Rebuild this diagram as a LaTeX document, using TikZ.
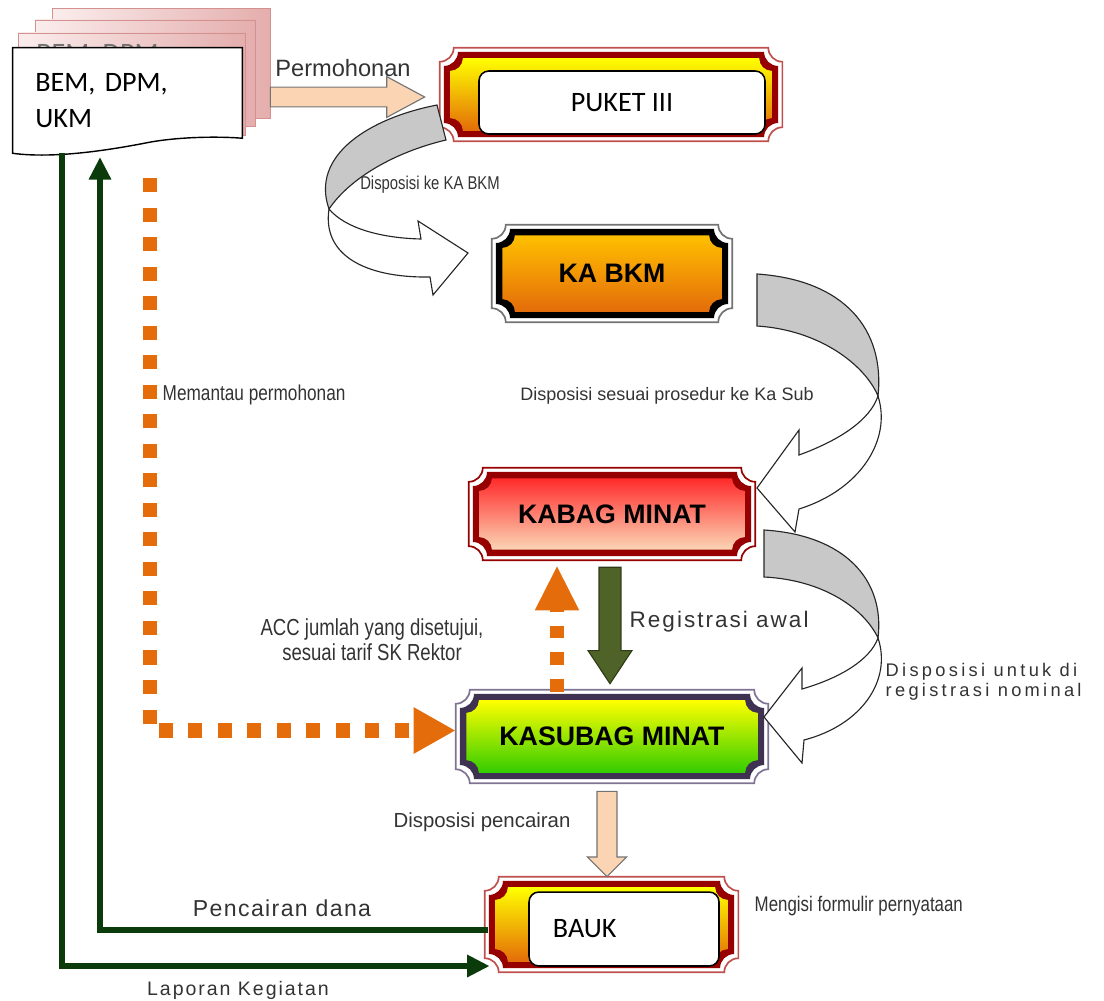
\documentclass[tikz,border=0pt]{standalone}
\usepackage{fontspec}
\setmainfont{Liberation Sans}
\newfontfamily\calib{Carlito}
\newfontfamily\narrowfont[FakeStretch=0.8]{Liberation Sans}
\usetikzlibrary{arrows.meta,calc,positioning,backgrounds}
\frenchspacing

\definecolor{peach}{HTML}{FBD4B4}
\definecolor{dkgreen}{HTML}{0B3B0B}
\definecolor{regreen}{HTML}{4F6228}
\definecolor{dotorange}{HTML}{E46C0A}
\definecolor{ribbon}{HTML}{C8C8C8}
\definecolor{pkrim}{HTML}{C0504D}
\definecolor{pkband}{HTML}{960000}
\definecolor{pkyellow}{HTML}{FFFF00}
\definecolor{pkorange}{HTML}{E36C09}
\definecolor{bkmtop}{HTML}{FFC000}
\definecolor{bkmbot}{HTML}{E46C0A}
\definecolor{kbtop}{HTML}{FF2B2B}
\definecolor{kbbot}{HTML}{FBD5B5}
\definecolor{ksrim}{HTML}{7F7393}
\definecolor{ksband}{HTML}{3F3151}
\definecolor{ksbot}{HTML}{33CC00}
\definecolor{pagel}{HTML}{FBEDED}
\definecolor{pager}{HTML}{E4AEAD}
\definecolor{pageedge}{HTML}{D39190}

% one layer of a plaque frame: options, node, inset, corner radius
\newcommand{\plaquelayer}[4]{%
  \path[#1] let \p1=($(#2.south west)+(#3,#3)$), \p2=($(#2.north east)-(#3,#3)$) in
    (\x1+#4,\y1) -- (\x2-#4,\y1) arc[start angle=180,end angle=90,radius=#4]
    -- (\x2,\y2-#4) arc[start angle=270,end angle=180,radius=#4]
    -- (\x1+#4,\y2) arc[start angle=360,end angle=270,radius=#4]
    -- (\x1,\y1+#4) arc[start angle=90,end angle=0,radius=#4] -- cycle;}
% node, rim, band, top colour, bottom colour
\newcommand{\plaque}[5]{%
  \plaquelayer{fill=white, draw=#2, line width=1.2pt}{#1}{0pt}{10pt}
  \plaquelayer{fill=#3}{#1}{3pt}{10pt}
  \plaquelayer{top color=#4, bottom color=#5}{#1}{7.5pt}{9pt}}
% block arrows: style, from, to, shaft half width, head half width, head length
\newcommand{\vblock}[6]{%
  \path[#1] let \p1=#2, \p2=#3 in
    (\x1-#4,\y1) -- (\x1+#4,\y1) -- (\x1+#4,\y2+#6) -- (\x1+#5,\y2+#6)
    -- (\x1,\y2) -- (\x1-#5,\y2+#6) -- (\x1-#4,\y2+#6) -- cycle;}
\newcommand{\hblock}[6]{%
  \path[#1] let \p1=#2, \p2=#3 in
    (\x1,\y1+#4) -- (\x2-#6,\y1+#4) -- (\x2-#6,\y1+#5) -- (\x2,\y1)
    -- (\x2-#6,\y1-#5) -- (\x2-#6,\y1-#4) -- (\x1,\y1-#4) -- cycle;}

\tikzset{
  page/.style={draw=pageedge, line width=0.6pt, left color=pagel, right color=pager},
  docbox/.style={minimum width=162.9pt, minimum height=74.7pt, text width=131pt, align=left,
    inner xsep=16pt, font=\calib\fontsize{20}{25}\selectfont},
  plaquebox/.style={inner sep=0pt, font=\bfseries\fontsize{19}{22}\selectfont},
  labelbox/.style={draw, fill=white, rounded corners=7pt, line width=1.1pt,
    font=\calib\fontsize{20}{24}\selectfont},
  peacharrow/.style={fill=peach, draw=black!55, line width=0.8pt},
  ribbonback/.style={fill=ribbon, draw=black!85, line width=0.8pt},
  ribbonfront/.style={fill=white, draw=black!85, line width=0.8pt},
  greenline/.style={draw=dkgreen, line width=4.6pt, -{Triangle[length=16pt,width=15pt]}},
  orangedots/.style={draw=dotorange, line width=10pt, dash pattern=on 10pt off 11pt},
  note/.style={text=black!80, inner sep=1pt, font=\fontsize{12.8}{15}\selectfont},
  narrownote/.style={text=black!80, inner sep=1pt, font=\narrowfont\fontsize{13.2}{15}\selectfont},
}

\begin{document}
\begin{tikzpicture}[x=0.025cm, y=0.025cm]
\useasboundingbox (0,0) rectangle (1104,-1000);

% stacked sheets
\begin{scope}[on background layer]
\node[page, minimum width=155pt, minimum height=78.2pt] (page1) at (161,-63) {};
\node[page, minimum width=156.5pt, minimum height=75.4pt] (page2) at (145,-73) {};
\node[page, minimum width=161.5pt, minimum height=72.6pt] (page3) at (131.5,-84) {};
\node[anchor=base west, inner sep=0pt, text=black!55, font=\calib\fontsize{20}{24}\selectfont]
  (ghost) at (36,-62) {BEM, DPM,};
\end{scope}

\node[docbox] (docs) at (127.5,-100.5) {BEM, DPM,\\UKM};
\begin{scope}[on background layer]
\path[fill=white, draw=black, line width=1pt] let \p1=(docs.south west), \p2=(docs.north east) in
  (\x1,\y2) -- (\x2,\y2) -- (\x2,\y1+10.7pt)
  .. controls (\x2-15pt,\y1+12pt) and (\x1+120pt,\y1+12pt) .. (\x1+97pt,\y1+7.8pt)
  .. controls (\x1+70pt,\y1+2.5pt) and (\x1+30pt,\y1-4pt) .. (\x1,\y1) -- cycle;
\end{scope}

% offices
\node[plaquebox, minimum width=243.3pt, minimum height=66.2pt] (puket) at (611,-94.5) {};
\node[labelbox, minimum width=203.4pt, minimum height=44.8pt] (puketlbl) at (622,-102.5) {PUKET III};
\node[plaquebox, minimum width=170.7pt, minimum height=69pt] (kabkm) at (612,-273.5) {KA BKM};
\node[plaquebox, minimum width=203.4pt, minimum height=65.4pt] (kabag) at (612,-514) {KABAG MINAT};
\node[plaquebox, minimum width=221.9pt, minimum height=66.2pt] (kasubag) at (612,-736.5) {KASUBAG MINAT};
\node[plaquebox, minimum width=180pt, minimum height=67.6pt] (bauk) at (611.5,-924.5) {};
\node[labelbox, minimum width=135.1pt, minimum height=52.6pt, text width=101pt, align=left,
  inner xsep=17pt] (bauklbl) at (624,-929) {BAUK};

\begin{scope}[on background layer]
\plaque{puket}{pkrim}{pkband}{pkyellow}{pkorange}
\plaque{kabkm}{black!55}{black}{bkmtop}{bkmbot}
\plaque{kabag}{pkband}{pkband}{kbtop}{kbbot}
\plaque{kasubag}{ksrim}{ksband}{pkyellow}{ksbot}
\plaque{bauk}{pkrim}{pkband}{pkyellow}{pkorange}
\end{scope}

% request
\hblock{peacharrow}{($(page1.east |- puket.west)+(0,-2.5)$)}{($(puket.west)+(-15,-2.5)$)}{7pt}{14.5pt}{27pt}
\node[text=black!80, font=\fontsize{16.8}{19}\selectfont] (reqlbl) at (343,-68) {Permohonan};

% PUKET III -> KA BKM
\path[ribbonback] (437,-105) .. controls (370,-118) and (310,-155) .. (329,-209)
  .. controls (350,-178) and (395,-152) .. (446,-140) -- cycle;
\path[ribbonfront] (329,-209) .. controls (345,-228) and (380,-238) .. (421,-239)
  -- (418,-221) -- (468,-253) -- (433,-295) -- (430,-277)
  .. controls (365,-278) and (322,-255) .. (329,-209) -- cycle;
\node[narrownote] (bkmlbl) at (430,-185) {Disposisi ke KA BKM};

% KA BKM -> KABAG MINAT
\path[ribbonback] (757,-274) .. controls (845,-280) and (885,-330) .. (878,-396)
  .. controls (865,-365) and (820,-330) .. (757,-326) -- cycle;
\path[ribbonfront] (878,-396) .. controls (892,-440) and (860,-490) .. (799,-509)
  -- (795,-532) -- (757,-488) -- (799,-430) -- (799,-455)
  .. controls (840,-440) and (870,-420) .. (878,-396) -- cycle;
\node[note] (sublbl) at (667,-396) {Disposisi sesuai prosedur ke Ka Sub};

% KABAG MINAT -> KASUBAG MINAT
\path[ribbonback] (764,-530) .. controls (845,-535) and (885,-580) .. (878,-638)
  .. controls (865,-610) and (825,-580) .. (764,-577) -- cycle;
\path[ribbonfront] (878,-638) .. controls (892,-680) and (862,-725) .. (804,-740)
  -- (802,-763) -- (764,-717) -- (802,-668) -- (802,-689)
  .. controls (840,-678) and (870,-660) .. (878,-638) -- cycle;
\node[text=black!80, anchor=west, align=left, inner sep=1pt,
  font=\fontsize{13}{14.2}\selectfont\addfontfeature{LetterSpace=18}] (nomlbl) at (884,-682)
  {Disposisi untuk di\\registrasi nominal};

% registration and approval
\vblock{fill=regreen, draw=regreen!60!black, line width=0.8pt}{($(kabag.south)+(-2,-7)$)}{($(kasubag.north)+(-2,6)$)}{7.8pt}{15.6pt}{23.5pt}
\node[text=black!80, anchor=west, inner sep=1pt,
  font=\fontsize{16}{18}\selectfont\addfontfeature{LetterSpace=9}] (reglbl) at (628,-622) {Registrasi awal};
\draw[orangedots, line width=9.5pt, dash pattern=on 9pt off 10pt, -{Triangle[length=32pt,width=29pt]}]
  ($(kasubag.north)+(-55,-2)$) -- ($(kabag.south)+(-55,-5)$);
\node[text=black!80, align=center, inner sep=1pt, font=\narrowfont\fontsize{16.5}{17.5}\selectfont]
  (acclbl) at (372,-640) {ACC jumlah yang disetujui,\\sesuai tarif SK Rektor};

% monitoring
\coordinate (watchstart) at (150,-178);
\draw[orangedots, -{Triangle[length=30pt,width=31pt]}] (watchstart) |- ($(kasubag.west)+(0,6)$);
\node[narrownote, anchor=west, font=\narrowfont\fontsize{15.3}{17}\selectfont] (watchlbl) at (161,-395) {Memantau permohonan};

% disbursement
\vblock{peacharrow}{($(kasubag.south)+(-5,-8)$)}{($(bauk.north)+(-4.5,0)$)}{7.1pt}{13.9pt}{14pt}
\node[text=black!80, inner sep=1pt, font=\fontsize{14.5}{16}\selectfont] (dislbl) at (482,-822) {Disposisi pencairan};
\node[narrownote, anchor=west, font=\narrowfont\fontsize{15}{17}\selectfont] (formlbl) at (753,-906) {Mengisi formulir pernyataan};

\coordinate (fundtip) at (100,-157);
\coordinate (reportstart) at (62,-153);
\draw[greenline] ($(bauk.west)+(3,-5.5)$) -| (fundtip);
\draw[greenline] (reportstart) |- ($(bauk.west)+(5,-41.5)$);
\node[text=black!80, inner sep=1pt, font=\fontsize{16.4}{18}\selectfont\addfontfeature{LetterSpace=6}]
  (fundlbl) at (282,-908) {Pencairan dana};
\node[text=black!80, inner sep=1pt, font=\fontsize{13.9}{16}\selectfont\addfontfeature{LetterSpace=10}]
  (replbl) at (238,-990) {Laporan Kegiatan};
\end{tikzpicture}
\end{document}
